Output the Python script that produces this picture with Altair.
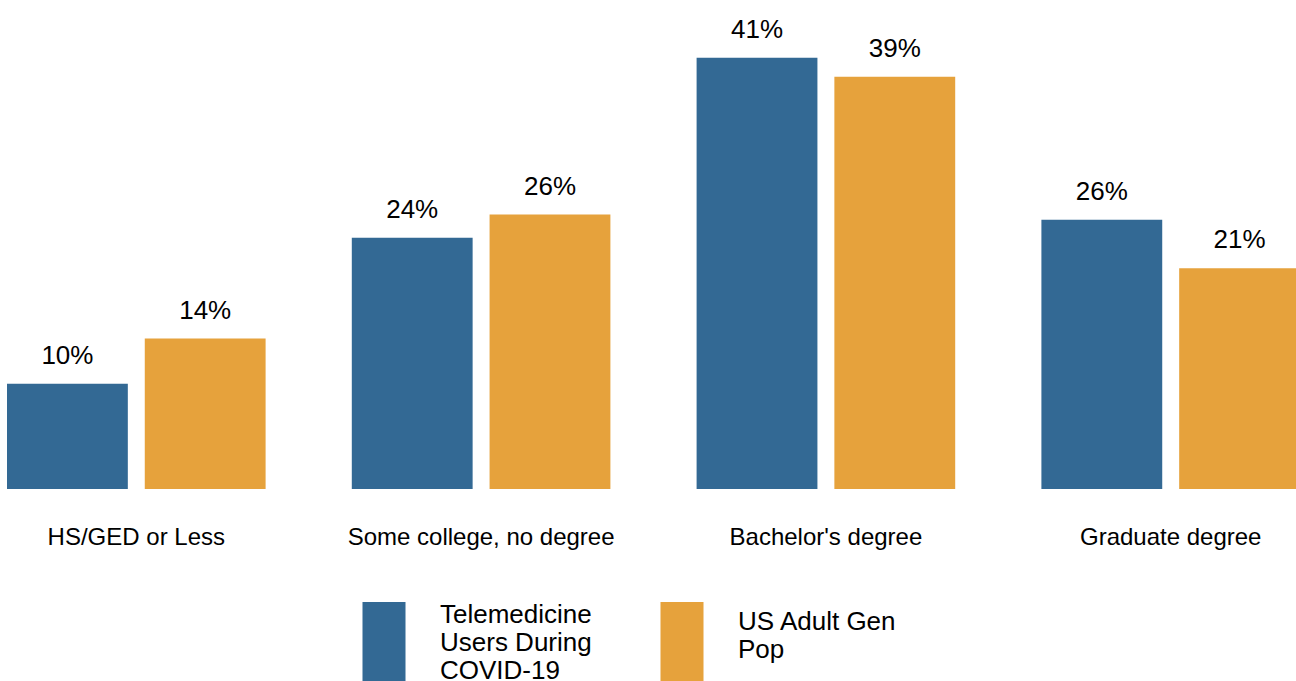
import altair as alt
import pandas as pd

categories = ["HS/GED or Less", "Some college, no degree", "Bachelor's degree", "Graduate degree"]
series = ["Telemedicine Users During COVID-19", "US Adult Gen Pop"]
telemedicine = [10.0, 23.9, 41.0, 25.6]
gen_pop = [14.3, 26.1, 39.2, 21.0]
colors = ["#336994", "#E6A23C"]

rows = []
for i, c in enumerate(categories):
    rows.append({"category": c, "series": series[0], "value": telemedicine[i]})
    rows.append({"category": c, "series": series[1], "value": gen_pop[i]})
df = pd.DataFrame(rows)

FONT = "Liberation Sans"

base = alt.Chart(df).encode(
    x=alt.X(
        "category:N",
        sort=categories,
        scale=alt.Scale(range=[7, 1300], paddingInner=0.25, paddingOuter=0),
        axis=alt.Axis(
            title=None, domain=False, ticks=False, tickSize=0, grid=False,
            labelFontSize=24, labelFont=FONT, labelColor="black",
            labelAngle=0, labelPadding=36, labelLimit=500,
        ),
    ),
    xOffset=alt.XOffset("series:N", sort=series,
                        scale=alt.Scale(paddingInner=0.123, paddingOuter=0)),
    y=alt.Y("value:Q", scale=alt.Scale(domain=[0, 46.5]), axis=None),
)

legend_expr = ("datum.label == 'Telemedicine Users During COVID-19' ? "
               "['Telemedicine', 'Users During', 'COVID-19'] : ['', 'US Adult Gen', 'Pop']")
baseline_expr = "datum.label == 'US Adult Gen Pop' ? 'alphabetic' : 'top'"

bars = base.mark_bar(clip=True).encode(
    color=alt.Color(
        "series:N", sort=series,
        scale=alt.Scale(domain=series, range=colors),
        legend=alt.Legend(
            title=None, orient="none", direction="horizontal",
            legendX=342, legendY=560,
            symbolType="M-0.512,0H0.512V2H-0.512Z", symbolSize=7056,
            symbolStrokeWidth=0, symbolOpacity=1,
            labelFont=FONT, labelFontSize=26, labelColor="black",
            labelLimit=400, labelOffset=14,
            labelBaseline=alt.ExprRef(expr=baseline_expr),
            labelExpr=legend_expr, columnPadding=48, padding=0,
        ),
    )
)

labels = base.transform_calculate(
    label="format(datum.value, '.0f') + '%'"
).mark_text(
    dy=-20, baseline="alphabetic", fontSize=26, font=FONT, color="black", clip=True
).encode(text="label:N")

chart = (bars + labels).properties(
    width=1296, height=489,
    autosize=alt.AutoSizeParams(type="none"),
    padding={"left": 0, "top": 0, "right": 0, "bottom": 192},
).configure_view(stroke=None)

chart.save("out.html", embed_options={"renderer": "svg", "actions": False})
